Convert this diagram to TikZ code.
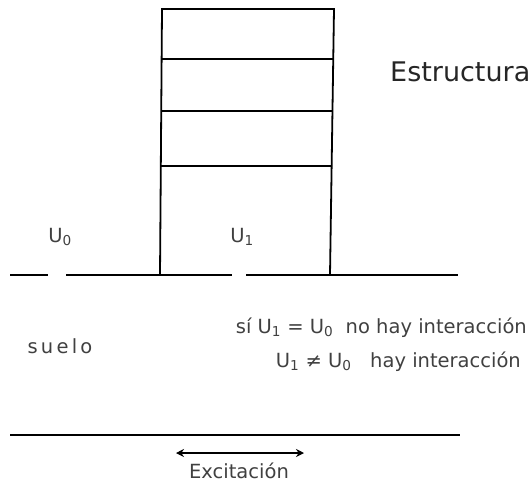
\documentclass[tikz,border=0pt]{standalone}
\usepackage{fontspec}
\setmainfont{DejaVu Sans}
\usetikzlibrary{arrows.meta}
\begin{document}
\begin{tikzpicture}[x=1pt,y=-1pt,
  wall/.style={line width=1.8pt},
  ground/.style={line width=1.2pt},
  lbl/.style={inner sep=0pt, text=black!75, font=\fontsize{19.5}{22}\selectfont},
  big/.style={inner sep=0pt, text=black!85, font=\fontsize{27}{30}\selectfont}]
\useasboundingbox (0,0) rectangle (532,495);
% building
\coordinate (tl) at (162,9);
\coordinate (tr) at (334,9);
\coordinate (bl) at (160,275);
\coordinate (br) at (330,275);
\coordinate (f1l) at (162,59);  \coordinate (f1r) at (334,59);
\coordinate (f2l) at (162,111); \coordinate (f2r) at (333,111);
\coordinate (f3l) at (161,166); \coordinate (f3r) at (332,166);
\draw[wall] (bl) -- (tl) -- (tr) -- (br);
\draw[wall] (f1l) -- (f1r);
\draw[wall] (f2l) -- (f2r);
\draw[wall] (f3l) -- (f3r);
% ground
\coordinate (g1a) at (10,275);  \coordinate (g1b) at (48,275);
\coordinate (g2a) at (66,275);  \coordinate (g2b) at (232,275);
\coordinate (g3a) at (246,275); \coordinate (g3b) at (458,275);
\draw[ground] (g1a) -- (g1b);
\draw[ground] (g2a) -- (g2b);
\draw[ground] (g3a) -- (g3b);
% bottom line
\coordinate (ba) at (10,435); \coordinate (bb) at (460,435);
\draw[ground] (ba) -- (bb);
% excitation arrow
\coordinate (ea) at (176,453); \coordinate (eb) at (304,453);
\draw[line width=1.1pt, {Stealth[length=8pt,width=8pt]}-{Stealth[length=8pt,width=8pt]}] (ea) -- (eb);
% labels
\node[big, anchor=west] (estr) at (390,72) {Estructura};
\node[lbl] (u0) at (60,237) {U\textsubscript{0}};
\node[lbl] (u1) at (242,237) {U\textsubscript{1}};
\node[lbl] (suelo) at (60,346) {s\,u\,e\,l\,o};
\node[lbl, anchor=east] (l1) at (527,328) {sí U\textsubscript{1} = U\textsubscript{0}\ \ no hay interacción};
\node[lbl, anchor=east] (l2) at (521,362) {U\textsubscript{1} ≠ U\textsubscript{0}\ \ \ hay interacción};
\node[lbl] (exc) at (239,471) {Excitación};
\end{tikzpicture}
\end{document}
